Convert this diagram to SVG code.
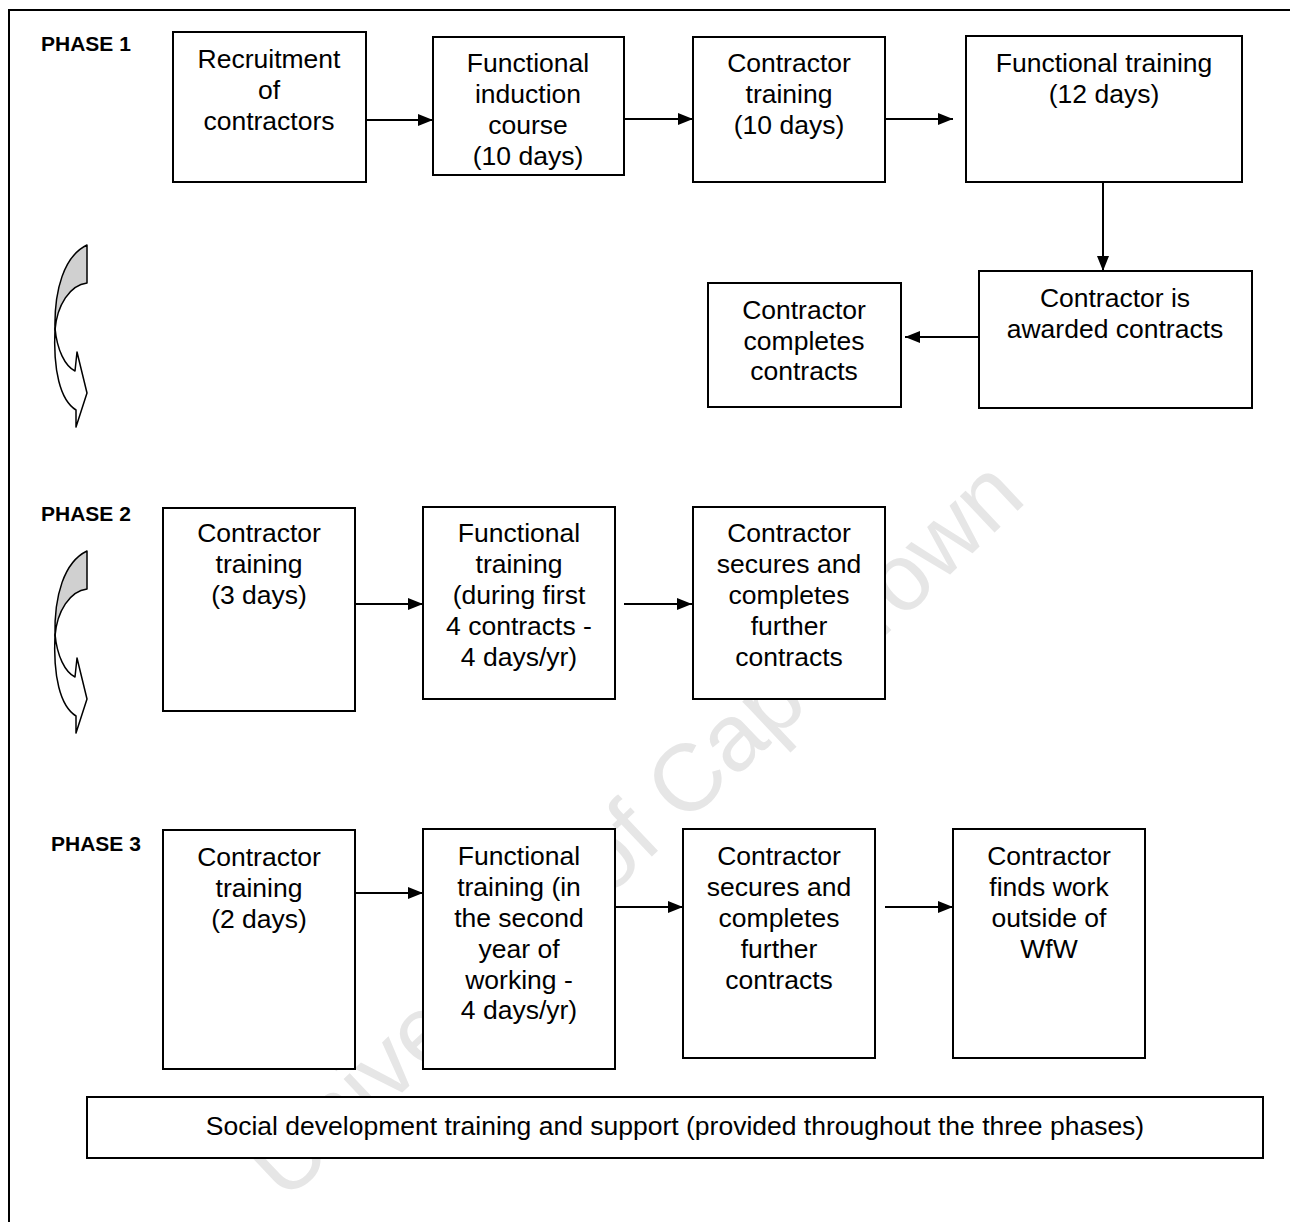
<svg xmlns="http://www.w3.org/2000/svg" width="1290" height="1222" viewBox="0 0 1290 1222">
<style>
.box{fill:#fff;stroke:#000;stroke-width:2}
.t{font-family:"Liberation Sans",Arial,sans-serif;font-size:26.5px;fill:#000;text-anchor:middle}
.ph{font-family:"Liberation Sans",Arial,sans-serif;font-size:21px;font-weight:bold;fill:#000}
.c{stroke:#000;stroke-width:2;fill:none;marker-end:url(#ah)}
.wm{font-family:"Liberation Sans",Arial,sans-serif;font-size:95px;fill:#e6e6e6;text-anchor:middle;dominant-baseline:central}
.ca{stroke:#000;stroke-width:1.5;stroke-linejoin:round}
</style>
<defs>
<marker id="ah" markerWidth="15" markerHeight="12" refX="15" refY="6" orient="auto" markerUnits="userSpaceOnUse">
<path d="M0,0 L15,6 L0,12 Z" fill="#000"/>
</marker>
<g id="curvedArrow">
<path class="ca" fill="#fff" d="M55,328 C57,350 65,366 75,371 L77,352 L87,393 L76,427 L76,410 C60,400 53,370 55,328 Z"/>
<path class="ca" fill="#d0d0d0" d="M87,245 L87,283 C70,285 57,305 55,330 C54,290 64,256 87,245 Z"/>
</g>
</defs>
<text class="wm" transform="translate(634,828) rotate(-43.4)">University of Cape Town</text>
<path d="M9,1222 V10 H1290" fill="none" stroke="#000" stroke-width="2"/>
<text class="ph" x="41" y="51">PHASE 1</text>
<text class="ph" x="41" y="521">PHASE 2</text>
<text class="ph" x="51" y="851">PHASE 3</text>
<use href="#curvedArrow"/>
<use href="#curvedArrow" transform="translate(0,306)"/>
<g id="connectors">
<line class="c" x1="366" y1="120" x2="433" y2="120"/>
<line class="c" x1="624" y1="119" x2="693" y2="119"/>
<line class="c" x1="886" y1="119" x2="953" y2="119"/>
<line class="c" x1="1103" y1="183" x2="1103" y2="271"/>
<line class="c" x1="979" y1="337" x2="905" y2="337"/>
<line class="c" x1="355" y1="604" x2="423" y2="604"/>
<line class="c" x1="624" y1="604" x2="692" y2="604"/>
<line class="c" x1="355" y1="893" x2="423" y2="893"/>
<line class="c" x1="615" y1="907" x2="683" y2="907"/>
<line class="c" x1="885" y1="907" x2="953" y2="907"/>
</g>
<g id="n1"><rect class="box" x="173" y="32" width="193" height="150"/>
<text class="t"><tspan x="269" y="68">Recruitment</tspan><tspan x="269" y="99">of</tspan><tspan x="269" y="130">contractors</tspan></text></g>
<g id="n2"><rect class="box" x="433" y="37" width="191" height="138"/>
<text class="t"><tspan x="528" y="72">Functional</tspan><tspan x="528" y="103">induction</tspan><tspan x="528" y="134">course</tspan><tspan x="528" y="165">(10 days)</tspan></text></g>
<g id="n3"><rect class="box" x="693" y="37" width="192" height="145"/>
<text class="t"><tspan x="789" y="72">Contractor</tspan><tspan x="789" y="103">training</tspan><tspan x="789" y="134">(10 days)</tspan></text></g>
<g id="n4"><rect class="box" x="966" y="36" width="276" height="146"/>
<text class="t"><tspan x="1104" y="72">Functional training</tspan><tspan x="1104" y="103">(12 days)</tspan></text></g>
<g id="n5"><rect class="box" x="979" y="271" width="273" height="137"/>
<text class="t"><tspan x="1115" y="307">Contractor is</tspan><tspan x="1115" y="338">awarded contracts</tspan></text></g>
<g id="n6"><rect class="box" x="708" y="283" width="193" height="124"/>
<text class="t"><tspan x="804" y="319">Contractor</tspan><tspan x="804" y="350">completes</tspan><tspan x="804" y="380">contracts</tspan></text></g>
<g id="n7"><rect class="box" x="163" y="508" width="192" height="203"/>
<text class="t"><tspan x="259" y="542">Contractor</tspan><tspan x="259" y="573">training</tspan><tspan x="259" y="604">(3 days)</tspan></text></g>
<g id="n8"><rect class="box" x="423" y="507" width="192" height="192"/>
<text class="t"><tspan x="519" y="542">Functional</tspan><tspan x="519" y="573">training</tspan><tspan x="519" y="604">(during first</tspan><tspan x="519" y="635">4 contracts -</tspan><tspan x="519" y="666">4 days/yr)</tspan></text></g>
<g id="n9"><rect class="box" x="693" y="507" width="192" height="192"/>
<text class="t"><tspan x="789" y="542">Contractor</tspan><tspan x="789" y="573">secures and</tspan><tspan x="789" y="604">completes</tspan><tspan x="789" y="635">further</tspan><tspan x="789" y="666">contracts</tspan></text></g>
<g id="n10"><rect class="box" x="163" y="830" width="192" height="239"/>
<text class="t"><tspan x="259" y="866">Contractor</tspan><tspan x="259" y="897">training</tspan><tspan x="259" y="928">(2 days)</tspan></text></g>
<g id="n11"><rect class="box" x="423" y="829" width="192" height="240"/>
<text class="t"><tspan x="519" y="865">Functional</tspan><tspan x="519" y="896">training (in</tspan><tspan x="519" y="927">the second</tspan><tspan x="519" y="958">year of</tspan><tspan x="519" y="989">working -</tspan><tspan x="519" y="1019">4 days/yr)</tspan></text></g>
<g id="n12"><rect class="box" x="683" y="829" width="192" height="229"/>
<text class="t"><tspan x="779" y="865">Contractor</tspan><tspan x="779" y="896">secures and</tspan><tspan x="779" y="927">completes</tspan><tspan x="779" y="958">further</tspan><tspan x="779" y="989">contracts</tspan></text></g>
<g id="n13"><rect class="box" x="953" y="829" width="192" height="229"/>
<text class="t"><tspan x="1049" y="865">Contractor</tspan><tspan x="1049" y="896">finds work</tspan><tspan x="1049" y="927">outside of</tspan><tspan x="1049" y="958">WfW</tspan></text></g>
<g id="n14"><rect class="box" x="87" y="1097" width="1176" height="61"/>
<text class="t" x="675" y="1135">Social development training and support (provided throughout the three phases)</text></g>
</svg>
